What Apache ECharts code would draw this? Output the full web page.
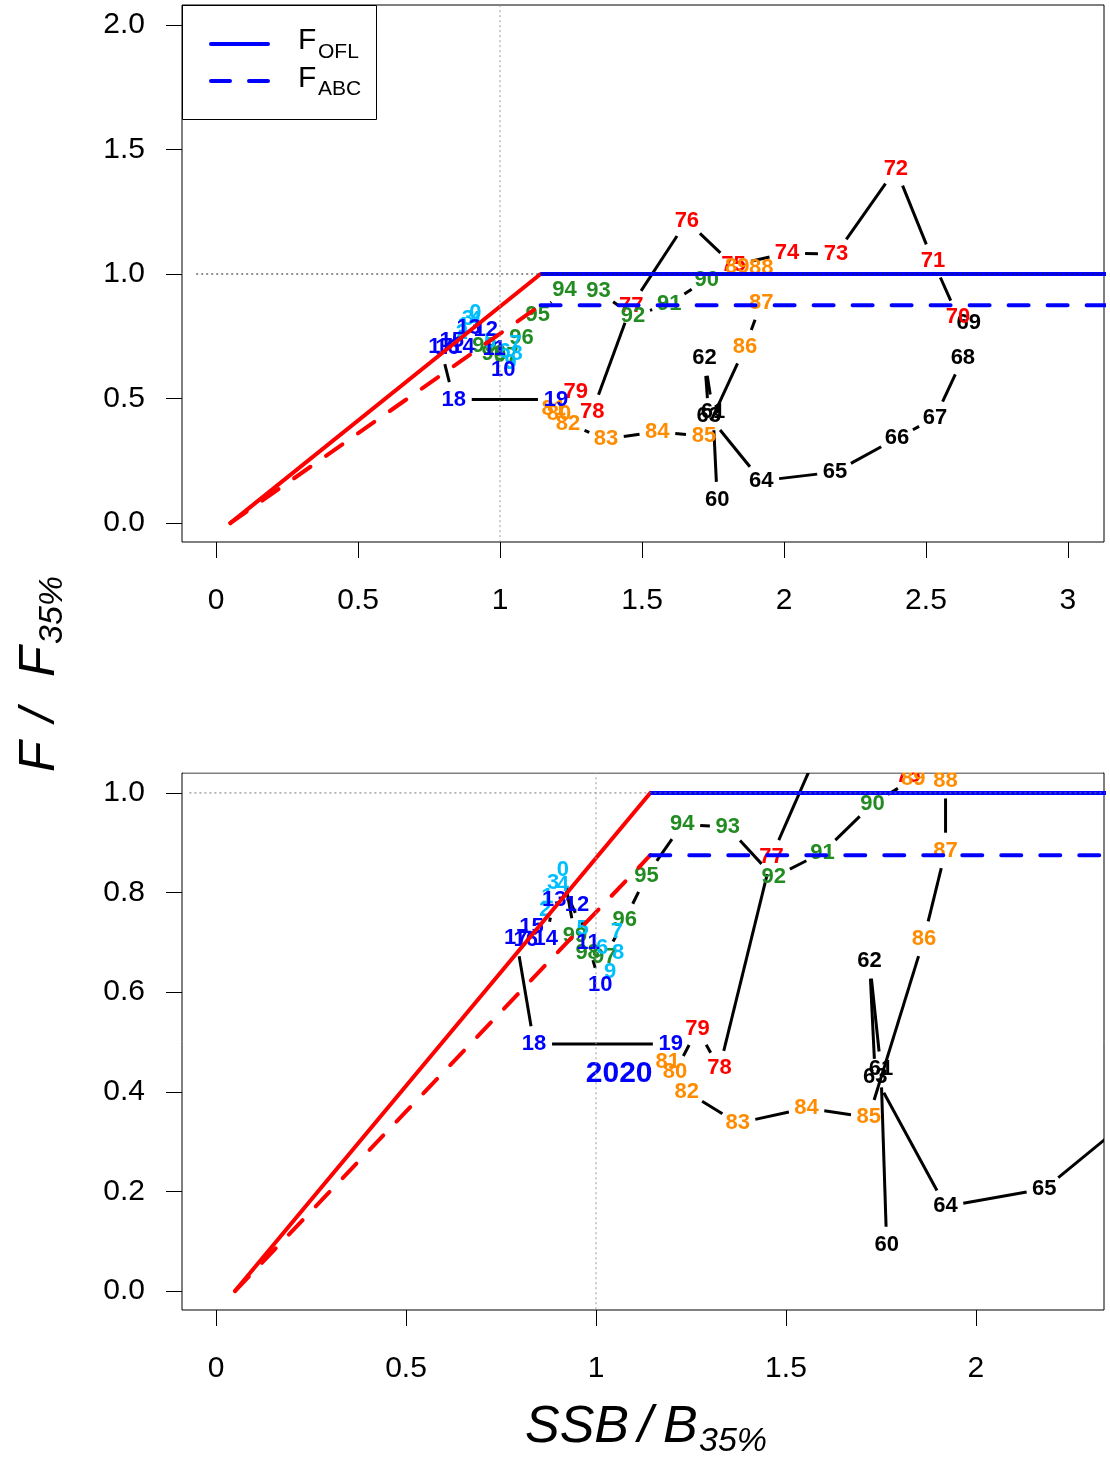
<!DOCTYPE html>
<html><head><meta charset="utf-8">
<script src="https://cdn.jsdelivr.net/npm/echarts@6/dist/echarts.min.js"></script>
<style>html,body{margin:0;padding:0;background:#fff}#c{width:1110px;height:1463px}</style>
</head><body><div id="c"></div>
<script>
// ---- data ----
const years = [1960,1961,1962,1963,1964,1965,1966,1967,1968,1969,
               1970,1971,1972,1973,1974,1975,1976,1977,1978,1979,
               1980,1981,1982,1983,1984,1985,1986,1987,1988,1989,
               1990,1991,1992,1993,1994,1995,1996,1997,1998,1999,
               2000,2001,2002,2003,2004,2005,2006,2007,2008,2009,
               2010,2011,2012,2013,2014,2015,2016,2017,2018,2019];
const ssb = [1.765,1.750,1.720,1.735,1.920,2.180,2.398,2.532,2.630,2.651,
             2.613,2.525,2.394,2.183,2.011,1.822,1.658,1.462,1.325,1.267,
             1.208,1.189,1.239,1.373,1.554,1.718,1.863,1.920,1.920,1.835,
             1.728,1.596,1.468,1.347,1.227,1.133,1.076,1.022,0.978,0.945,
             0.913,0.872,0.866,0.887,0.913,0.965,1.016,1.055,1.058,1.037,
             1.011,0.979,0.950,0.890,0.868,0.830,0.815,0.790,0.837,1.197];
const fRatio = [0.093,0.445,0.663,0.430,0.170,0.205,0.341,0.422,0.663,0.803,
                0.827,1.052,1.422,1.080,1.084,1.035,1.213,0.872,0.447,0.526,
                0.440,0.460,0.400,0.337,0.367,0.349,0.707,0.884,1.025,1.028,
                0.978,0.880,0.831,0.931,0.937,0.834,0.745,0.670,0.678,0.713,
                0.845,0.792,0.765,0.819,0.815,0.726,0.689,0.721,0.679,0.641,
                0.614,0.699,0.775,0.785,0.706,0.730,0.705,0.708,0.496,0.496];
const projLabel = '2020';
const projSSB = 1.061;
const projF = 0.436;
const decadeColors = {1960:'#000000',1970:'#FF0000',1980:'#FF8C00',1990:'#228B22',2000:'#00BFFF',2010:'#0000FF'};

const xTicksTop = [0,0.5,1,1.5,2,2.5,3];
const yTicksTop = [0,0.5,1,1.5,2];
const xTicksBot = [0,0.5,1,1.5,2];
const yTicksBot = [0,0.2,0.4,0.6,0.8,1.0];

// harvest control rule (Tier 3): x = SSB/B35, y = F/F35
const ruleX = [0.05, 40/35, 4];
const oflY = [0, 1.0, 1.0];
const abcY = [0, 0.875, 0.875];
const refH = [[-0.07,1],[4,1]];
const refV = [[1,-1],[1,3]];

// ---- build ----
const FONT = '"Liberation Sans", Arial, sans-serif';
const GAP = 18;
const segs = [];
for (let i = 0; i < years.length - 1; i++) segs.push([ssb[i], fRatio[i], ssb[i+1], fRatio[i+1]]);
const labelData = years.map((y,i)=>({value:[ssb[i], fRatio[i]], name:String(y%100),
  label:{color: decadeColors[Math.floor(y/10)*10]}}));

function xAx(g, min, max, ticks){
  return {type:'value', gridIndex:g, min:min, max:max,
    axisLine:{show:false, onZero:false}, splitLine:{show:false},
    axisTick:{show:true, customValues:ticks, length:16, lineStyle:{color:'#000', width:1}},
    axisLabel:{customValues:ticks, formatter:v=>String(v), fontSize:30, color:'#000', fontFamily:FONT, margin:44}};
}
function yAx(g, min, max, ticks){
  return {type:'value', gridIndex:g, min:min, max:max,
    axisLine:{show:false, onZero:false}, splitLine:{show:false},
    axisTick:{show:true, customValues:ticks, length:16, lineStyle:{color:'#000', width:1}},
    axisLabel:{customValues:ticks, formatter:v=>v.toFixed(1), fontSize:30, color:'#000', fontFamily:FONT, margin:37}};
}
function panelSeries(g, withProj){
  const s = [];
  s.push({type:'custom', xAxisIndex:g, yAxisIndex:g, clip:true, silent:true, z:1,
    data: segs, encode:{x:[0,2], y:[1,3]},
    renderItem:function(params, api){
      const p1 = api.coord([api.value(0), api.value(1)]);
      const p2 = api.coord([api.value(2), api.value(3)]);
      const dx = p2[0]-p1[0], dy = p2[1]-p1[1];
      const L = Math.hypot(dx, dy);
      if (L <= 2*GAP) return null;
      const ux = dx/L, uy = dy/L;
      return {type:'line', shape:{x1:p1[0]+ux*GAP, y1:p1[1]+uy*GAP, x2:p2[0]-ux*GAP, y2:p2[1]-uy*GAP},
        style:{stroke:'#000', lineWidth:3}};
    }});
  s.push({type:'scatter', xAxisIndex:g, yAxisIndex:g, z:2, silent:true, clip:true,
    symbol:'circle', symbolSize:1, itemStyle:{color:'rgba(0,0,0,0)', opacity:1},
    label:{show:true, position:'inside', formatter:p=>p.name, fontSize:22, fontWeight:'bold', fontFamily:FONT, opacity:1},
    data: labelData});
  if (withProj){
    s.push({type:'scatter', xAxisIndex:g, yAxisIndex:g, z:2, silent:true,
      symbol:'circle', symbolSize:1, itemStyle:{color:'rgba(0,0,0,0)', opacity:1},
      label:{show:true, position:'inside', formatter:projLabel, fontSize:30, fontWeight:'bold', color:'#0000FF', fontFamily:FONT, opacity:1},
      data:[[projSSB, projF]]});
  }
  const lineBase = {type:'line', xAxisIndex:g, yAxisIndex:g, symbol:'none', silent:true, z:3, clip:true};
  s.push(Object.assign({}, lineBase, {data:[[ruleX[0],abcY[0]],[ruleX[1],abcY[1]]], lineStyle:{color:'#FF0000', width:4, type:[20,19], cap:'round'}}));
  s.push(Object.assign({}, lineBase, {data:[[ruleX[0],oflY[0]],[ruleX[1],oflY[1]]], lineStyle:{color:'#FF0000', width:4, cap:'round'}}));
  s.push(Object.assign({}, lineBase, {data:[[ruleX[1],abcY[1]],[ruleX[2],abcY[2]]], lineStyle:{color:'#0000FF', width:4, type:[20,19], cap:'round'}}));
  s.push(Object.assign({}, lineBase, {data:[[ruleX[1],oflY[1]],[ruleX[2],oflY[2]]], lineStyle:{color:'#0000FF', width:4}}));
  s.push(Object.assign({}, lineBase, {z:4, data:refH, lineStyle:{color: g===0 ? '#222' : '#777', width:1, type:[2,3]}}));
  s.push(Object.assign({}, lineBase, {z:4, data:refV, lineStyle:{color:'#999', width:1, type:[2,3]}}));
  return s;
}

const txt = (x,y,text,size,opts) => ({type:'text', x:x, y:y, z:20,
  style:{text:text, font:(opts&&opts.italic?'italic ':'')+size+'px '+FONT, fill:'#000', align:'left', textAlign:'left', verticalAlign:'middle', textVerticalAlign:'middle'}});

const chart = echarts.init(document.getElementById('c'), null, {renderer:'canvas'});
chart.setOption({
  animation:false,
  backgroundColor:'#fff',
  grid:[
    {left:182, top:5, width:922, height:537, show:true, borderColor:'#000', borderWidth:1, backgroundColor:'rgba(0,0,0,0)'},
    {left:182, top:773, width:922, height:537, show:true, borderColor:'#000', borderWidth:1, backgroundColor:'rgba(0,0,0,0)'}
  ],
  xAxis:[xAx(0,-0.12,3.127,xTicksTop), xAx(1,-0.0895,2.337,xTicksBot)],
  yAxis:[yAx(0,-0.076,2.08,yTicksTop), yAx(1,-0.038,1.040,yTicksBot)],
  series: panelSeries(0,false).concat(panelSeries(1,true)),
  graphic:[
    // mask: labels are clipped at the lower panel's top edge, as in the original
    {type:'rect', z:9, shape:{x:183, y:740, width:920, height:32.5}, style:{fill:'#fff'}},
    {type:'rect', z:10, shape:{x:182.5, y:5.5, width:194, height:114}, style:{fill:'#fff', stroke:'#000', lineWidth:1}},
    {type:'line', z:11, shape:{x1:211, y1:44, x2:268, y2:44}, style:{stroke:'#0000FF', lineWidth:4, lineCap:'round'}},
    {type:'line', z:11, shape:{x1:211, y1:81, x2:268, y2:81}, style:{stroke:'#0000FF', lineWidth:4, lineCap:'round', lineDash:[19,19]}},
    txt(298, 41, 'F', 30),
    txt(318, 52, 'OFL', 21),
    txt(298, 79, 'F', 30),
    txt(318, 89, 'ABC', 21),
    // x title
    txt(525, 1428, 'SSB', 52, {italic:true}),
    txt(638, 1428, '/', 52, {italic:true}),
    txt(663, 1428, 'B', 52, {italic:true}),
    txt(699, 1442, '35%', 34, {italic:true}),
    // y title (rotated)
    {type:'group', x:40, y:772, rotation:Math.PI/2, z:20, children:[
      {type:'text', x:0, y:0, style:{text:'F', font:'italic 50px '+FONT, fill:'#000', align:'left', verticalAlign:'middle'}},
      {type:'text', x:50, y:0, style:{text:'/', font:'italic 50px '+FONT, fill:'#000', align:'left', verticalAlign:'middle'}},
      {type:'text', x:95, y:0, style:{text:'F', font:'italic 50px '+FONT, fill:'#000', align:'left', verticalAlign:'middle'}},
      {type:'text', x:128, y:13, style:{text:'35%', font:'italic 34px '+FONT, fill:'#000', align:'left', verticalAlign:'middle'}}
    ]}
  ]
});
</script></body></html>
